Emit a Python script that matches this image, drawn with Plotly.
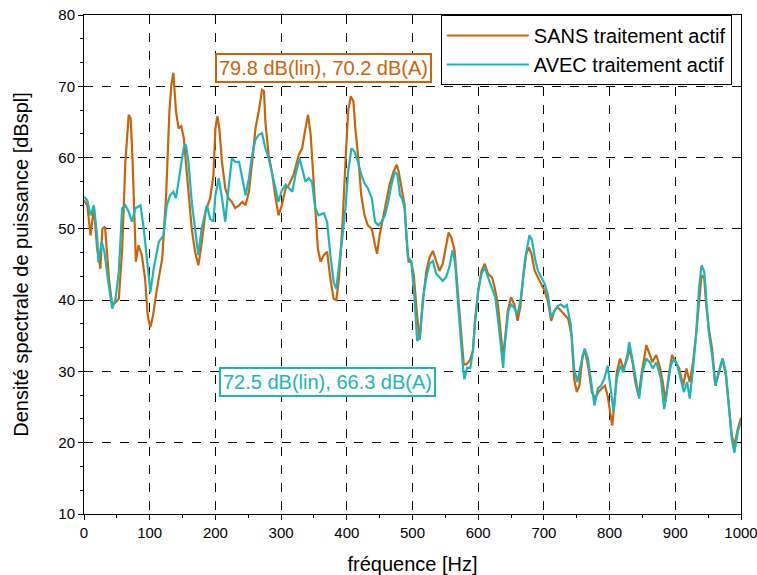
import plotly.graph_objects as go

# SANS traitement actif (orange)
sans_f = [0, 5, 10, 15, 20, 25, 28, 32, 38, 43, 48, 53, 58, 63, 68, 71, 74, 77, 79, 83, 88, 93, 97, 101, 105, 111, 119, 125, 130, 133, 136, 140, 144, 148, 152, 155, 159, 164, 169, 174, 178, 185, 192, 197,
          200, 203, 206, 210, 215, 220, 225, 230, 236, 241, 246, 251, 256, 261, 266, 271, 274, 276, 281, 286, 291, 296, 301, 307, 312, 319, 327, 332, 337, 341, 345, 350, 353, 356, 360, 365, 370, 375, 380, 384, 388, 393, 398,
          402, 406, 410, 413, 417, 422, 427, 432, 438, 443, 446, 450, 455, 460, 465, 471, 476, 479, 483, 488, 491, 494, 498,
          502, 507, 511, 516, 521, 526, 531, 536, 541, 546, 551, 555, 559, 564, 568, 572, 575, 578, 582, 587, 592, 595,
          600, 605, 610, 615, 621, 625, 630, 635, 638, 640, 645, 650, 655, 660, 664, 668, 673, 677, 681, 686, 691, 696,
          701, 706, 711, 716, 721, 726, 731, 737, 742, 746, 750, 754, 759, 763, 768, 773, 778, 783, 788, 793, 797,
          801, 804, 807, 811, 816, 821, 827, 830, 835, 839, 844, 849, 856, 860, 865, 871, 876, 881, 885, 890, 895,
          901, 906, 912, 917, 922, 927, 932, 936, 940, 944, 947, 951, 956, 961, 966, 972, 977, 982, 986, 990, 995, 1000]
sans_db = [54.0, 53.3, 49.1, 53.0, 47.2, 44.4, 50.0, 50.3, 43.0, 39.2, 39.7, 40.2, 47.0, 59.4, 66.0, 65.5, 59.4, 51.0, 45.4, 47.7, 46.3, 43.0, 37.8, 36.2, 37.8, 41.6, 45.8, 54.7, 66.5, 70.2, 71.9, 66.5, 64.1, 64.4, 62.7, 59.4, 54.7, 50.0, 46.8, 44.9, 47.2, 52.4, 54.3, 57.5,
           64.1, 65.8, 64.1, 59.4, 55.7, 54.3, 53.8, 52.9, 53.3, 53.8, 53.3, 55.2, 59.4, 64.1, 66.5, 69.5, 69.3, 65.1, 60.4, 58.0, 54.7, 51.9, 53.3, 55.7, 56.2, 57.6, 60.4, 61.3, 64.1, 66.0, 63.2, 56.6, 52.4, 47.2, 45.4, 46.3, 46.8, 43.0, 40.2, 40.0, 43.0, 50.0, 59.4,
           66.5, 68.6, 67.9, 64.1, 60.4, 54.7, 51.9, 50.5, 50.0, 47.7, 46.5, 49.1, 51.4, 53.8, 56.2, 58.0, 59.0, 58.0, 55.7, 53.3, 48.6, 45.4, 45.4,
           43.5, 37.8, 34.5, 39.9, 44.1, 46.0, 46.9, 45.5, 44.1, 45.1, 47.4, 49.5, 48.8, 47.0, 42.3, 37.6, 33.8, 31.0, 31.0, 31.5, 32.9, 37.1,
           41.3, 44.1, 45.1, 43.7, 43.2, 41.8, 39.4, 34.7, 31.9, 33.8, 38.5, 40.4, 39.4, 37.1, 39.0, 42.7, 46.5, 47.4, 46.5, 44.1, 43.2, 42.3,
           41.3, 39.9, 37.1, 38.5, 39.0, 38.5, 38.0, 37.4, 35.1, 29.0, 27.1, 28.0, 32.3, 32.7, 30.4, 27.1, 26.2, 27.1, 27.6, 28.0, 26.6,
           23.8, 22.4, 25.2, 29.9, 31.8, 30.4, 31.8, 33.2, 31.3, 28.5, 26.6, 29.9, 33.7, 32.7, 31.3, 32.3, 30.8, 28.5, 25.7, 29.4, 32.3,
           31.3, 30.4, 28.0, 30.4, 28.5, 31.3, 35.5, 39.8, 43.5, 43.1, 39.3, 36.0, 33.2, 28.0, 29.9, 31.8, 29.4, 24.7, 21.0, 19.6, 21.9, 23.5]

# AVEC traitement actif (cyan)
avec_f = [0, 5, 10, 15, 20, 22, 27, 31, 37, 43, 48, 53, 58, 63, 68, 73, 78, 86, 91, 96, 101, 106, 114, 121, 126, 131, 136, 140, 145, 152, 155, 159, 164, 169, 174, 179, 187, 192, 197,
          200, 205, 210, 215, 220, 225, 230, 236, 241, 246, 251, 256, 261, 266, 271, 276, 281, 286, 291, 296, 301, 307, 312, 317, 322, 328, 332, 337, 342, 347, 352, 357, 365, 370, 375, 380, 384, 388, 393, 398,
          402, 407, 412, 417, 422, 427, 432, 438, 443, 448, 453, 458, 463, 468, 473, 477, 481, 484, 488, 493, 498,
          503, 507, 511, 516, 521, 526, 531, 536, 541, 546, 551, 556, 561, 565, 569, 573, 577, 579, 583, 588, 592, 595,
          600, 605, 610, 615, 621, 626, 631, 635, 638, 641, 646, 650, 655, 660, 665, 671, 675, 678, 682, 686, 691, 696,
          701, 706, 711, 716, 721, 726, 731, 735, 741, 746, 751, 755, 762, 767, 772, 777, 782, 787, 792, 797,
          803, 806, 811, 816, 821, 827, 830, 835, 840, 845, 850, 856, 861, 866, 871, 878, 883, 888, 893, 898,
          903, 908, 913, 918, 922, 927, 932, 936, 940, 944, 947, 951, 956, 961, 966, 972, 977, 982, 986, 990, 995, 1000]
avec_db = [54.5, 54.0, 51.9, 53.3, 49.0, 45.3, 48.2, 46.8, 42.5, 38.8, 40.2, 44.0, 52.9, 53.3, 52.4, 51.0, 52.9, 53.3, 50.0, 45.4, 41.1, 44.4, 48.2, 49.1, 53.3, 54.7, 55.2, 54.3, 57.6, 61.5, 61.8, 59.4, 53.8, 49.6, 46.3, 50.0, 53.3, 51.4, 51.0,
           54.7, 57.1, 54.3, 51.0, 55.7, 59.9, 59.4, 59.4, 57.1, 54.7, 57.1, 60.4, 62.5, 63.2, 63.4, 61.3, 59.9, 58.0, 55.7, 53.8, 55.4, 56.2, 55.7, 55.2, 57.6, 59.9, 58.5, 56.6, 57.1, 56.6, 52.9, 51.9, 52.2, 51.0, 46.3, 42.5, 41.6, 44.4, 48.6, 52.9,
           58.0, 61.3, 60.8, 59.4, 57.6, 56.4, 55.7, 54.3, 51.0, 50.5, 51.0, 51.9, 53.8, 56.2, 58.0, 57.6, 54.7, 54.3, 52.9, 46.0, 45.5,
           40.4, 34.3, 34.7, 40.4, 43.2, 45.1, 45.5, 43.7, 43.2, 42.7, 43.2, 44.6, 47.0, 45.1, 39.9, 34.7, 30.5, 28.9, 30.5, 30.5, 32.9, 36.6,
           41.3, 43.7, 44.6, 43.2, 41.8, 40.4, 36.6, 32.9, 30.5, 34.3, 38.5, 39.4, 38.9, 38.0, 40.4, 45.5, 47.9, 49.1, 48.4, 46.0, 44.1, 43.2,
           42.3, 40.8, 37.6, 38.5, 39.2, 39.4, 39.0, 39.3, 36.5, 30.4, 28.5, 30.4, 33.2, 31.8, 28.5, 25.2, 27.6, 28.0, 29.0, 30.8,
           26.6, 24.3, 29.0, 30.8, 29.9, 32.3, 34.1, 31.3, 28.5, 26.2, 29.9, 31.8, 31.3, 30.4, 31.3, 29.0, 24.7, 27.6, 30.8, 31.8,
           30.8, 29.0, 27.1, 28.5, 26.2, 30.4, 35.5, 41.6, 44.9, 44.0, 40.2, 35.5, 32.3, 28.0, 29.9, 31.8, 29.9, 24.3, 20.5, 18.6, 21.5, 23.0]

x_ticks = [0, 100, 200, 300, 400, 500, 600, 700, 800, 900, 1000]
y_ticks = [10, 20, 30, 40, 50, 60, 70, 80]

ann_sans = "79.8 dB(lin), 70.2 dB(A)"
ann_avec = "72.5 dB(lin), 66.3 dB(A)"

ORANGE = "#c8650c"
CYAN = "#1db5b7"
FONT = "Liberation Sans, Arial, sans-serif"

fig = go.Figure()
fig.add_trace(go.Scatter(x=sans_f, y=sans_db, mode="lines", name="SANS traitement actif",
                         line=dict(color=ORANGE, width=2.2)))
fig.add_trace(go.Scatter(x=avec_f, y=avec_db, mode="lines", name="AVEC traitement actif",
                         line=dict(color=CYAN, width=2.2)))

axis_common = dict(
    showline=True, linecolor="black", linewidth=1, mirror=True,
    showgrid=True, gridcolor="black", griddash="dash", gridwidth=1,
    ticks="outside", ticklen=5, tickcolor="black", zeroline=False,
    tickfont=dict(family=FONT, size=15, color="black"), automargin=False,
    ticklabeloverflow="allow",
)

fig.update_xaxes(range=[0, 1000], tickvals=x_ticks, ticktext=[str(v) for v in x_ticks],
                 minor=dict(dtick=50, tick0=0, ticks="outside", ticklen=3, tickcolor="black", showgrid=False),
                 title=dict(text="fréquence [Hz]", font=dict(family=FONT, size=20, color="black"), standoff=20),
                 **axis_common)
fig.update_yaxes(range=[10, 80], tickvals=y_ticks, ticktext=[str(v) for v in y_ticks],
                 minor=dict(dtick=10/3, tick0=10, ticks="outside", ticklen=3, tickcolor="black", showgrid=False),
                 title=dict(text="Densité spectrale de puissance [dBspl]", font=dict(family=FONT, size=20, color="black"), standoff=24),
                 **axis_common)

fig.add_annotation(x=364, y=72.6, xref="x", yref="y", text=ann_sans, showarrow=False,
                   font=dict(family=FONT, size=20, color=ORANGE), bgcolor="white",
                   bordercolor=ORANGE, borderwidth=2, borderpad=2)
fig.add_annotation(x=370, y=28.5, xref="x", yref="y", text=ann_avec, showarrow=False,
                   font=dict(family=FONT, size=20, color=CYAN), bgcolor="white",
                   bordercolor=CYAN, borderwidth=2, borderpad=2)

fig.update_layout(
    width=757, height=575,
    margin=dict(l=84, r=16, t=15, b=61),
    paper_bgcolor="white", plot_bgcolor="white",
    font=dict(family=FONT, color="black"),
    legend=dict(x=0.986, y=1, xanchor="right", yanchor="top", bgcolor="white",
                bordercolor="black", borderwidth=1, font=dict(family=FONT, size=20, color="black"),
                itemwidth=82, tracegroupgap=0),
    showlegend=True,
)

fig.write_html("out.html", config={"displayModeBar": False},
               post_script="document.body.style.margin='0';document.body.style.padding='0';document.body.style.overflow='hidden';")
